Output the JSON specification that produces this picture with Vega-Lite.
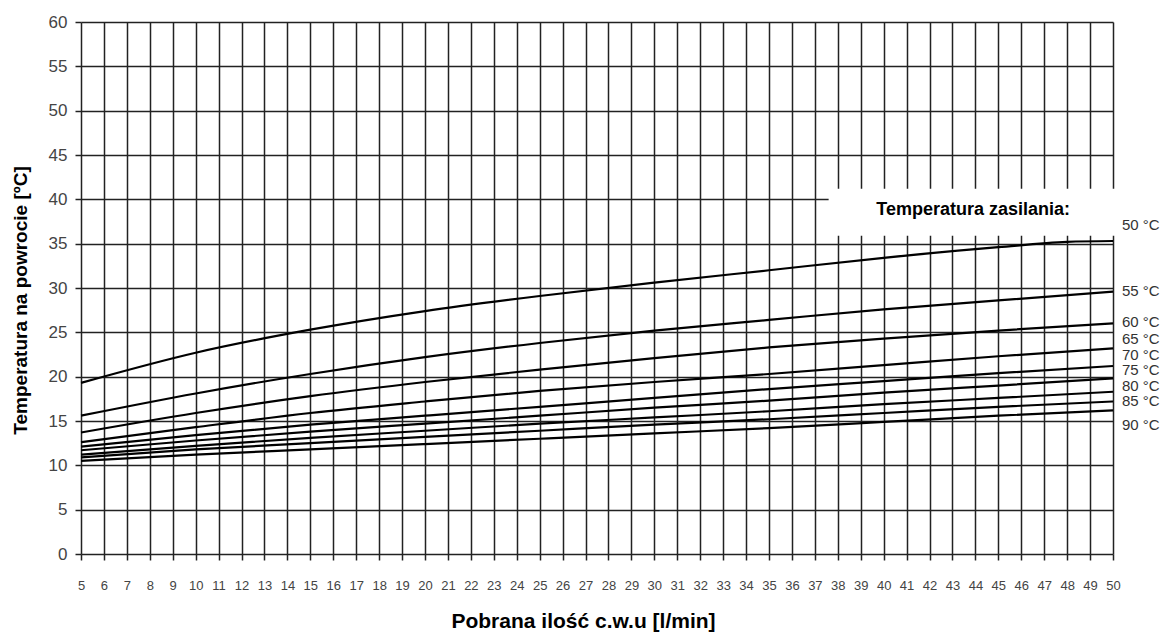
{
  "$schema": "https://vega.github.io/schema/vega-lite/v6.json",
  "width": 1032,
  "height": 532,
  "autosize": {"type": "none"},
  "padding": {"left": 81, "top": 22, "right": 54, "bottom": 81},
  "background": "white",
  "config": {"view": {"stroke": null}, "font": "Liberation Sans"},
  "datasets": {
    "curves": [
      {"s": "50", "x": 5, "y": 19.3}, {"s": "50", "x": 10, "y": 22.7}, {"s": "50", "x": 15, "y": 25.3}, {"s": "50", "x": 20, "y": 27.4}, {"s": "50", "x": 25, "y": 29.1}, {"s": "50", "x": 30, "y": 30.6}, {"s": "50", "x": 35, "y": 32.0}, {"s": "50", "x": 40, "y": 33.4}, {"s": "50", "x": 45, "y": 34.6}, {"s": "50", "x": 48, "y": 35.2}, {"s": "50", "x": 50, "y": 35.3},
      {"s": "55", "x": 5, "y": 15.6}, {"s": "55", "x": 10, "y": 18.1}, {"s": "55", "x": 15, "y": 20.3}, {"s": "55", "x": 20, "y": 22.2}, {"s": "55", "x": 25, "y": 23.8}, {"s": "55", "x": 30, "y": 25.2}, {"s": "55", "x": 35, "y": 26.4}, {"s": "55", "x": 40, "y": 27.6}, {"s": "55", "x": 45, "y": 28.6}, {"s": "55", "x": 50, "y": 29.6},
      {"s": "60", "x": 5, "y": 13.7}, {"s": "60", "x": 10, "y": 15.9}, {"s": "60", "x": 15, "y": 17.8}, {"s": "60", "x": 20, "y": 19.4}, {"s": "60", "x": 25, "y": 20.8}, {"s": "60", "x": 30, "y": 22.1}, {"s": "60", "x": 35, "y": 23.3}, {"s": "60", "x": 40, "y": 24.3}, {"s": "60", "x": 45, "y": 25.2}, {"s": "60", "x": 50, "y": 26.0},
      {"s": "65", "x": 5, "y": 12.6}, {"s": "65", "x": 10, "y": 14.3}, {"s": "65", "x": 15, "y": 15.9}, {"s": "65", "x": 20, "y": 17.2}, {"s": "65", "x": 25, "y": 18.4}, {"s": "65", "x": 30, "y": 19.4}, {"s": "65", "x": 35, "y": 20.3}, {"s": "65", "x": 40, "y": 21.3}, {"s": "65", "x": 45, "y": 22.3}, {"s": "65", "x": 50, "y": 23.2},
      {"s": "70", "x": 5, "y": 12.1}, {"s": "70", "x": 10, "y": 13.4}, {"s": "70", "x": 15, "y": 14.6}, {"s": "70", "x": 20, "y": 15.6}, {"s": "70", "x": 25, "y": 16.6}, {"s": "70", "x": 30, "y": 17.6}, {"s": "70", "x": 35, "y": 18.6}, {"s": "70", "x": 40, "y": 19.5}, {"s": "70", "x": 45, "y": 20.4}, {"s": "70", "x": 50, "y": 21.2},
      {"s": "75", "x": 5, "y": 11.7}, {"s": "75", "x": 10, "y": 12.8}, {"s": "75", "x": 15, "y": 13.8}, {"s": "75", "x": 20, "y": 14.7}, {"s": "75", "x": 25, "y": 15.6}, {"s": "75", "x": 30, "y": 16.5}, {"s": "75", "x": 35, "y": 17.3}, {"s": "75", "x": 40, "y": 18.2}, {"s": "75", "x": 45, "y": 19.0}, {"s": "75", "x": 50, "y": 19.8},
      {"s": "80", "x": 5, "y": 11.2}, {"s": "80", "x": 10, "y": 12.2}, {"s": "80", "x": 15, "y": 13.1}, {"s": "80", "x": 20, "y": 13.9}, {"s": "80", "x": 25, "y": 14.7}, {"s": "80", "x": 30, "y": 15.4}, {"s": "80", "x": 35, "y": 16.1}, {"s": "80", "x": 40, "y": 16.9}, {"s": "80", "x": 45, "y": 17.6}, {"s": "80", "x": 50, "y": 18.3},
      {"s": "85", "x": 5, "y": 10.9}, {"s": "85", "x": 10, "y": 11.8}, {"s": "85", "x": 15, "y": 12.5}, {"s": "85", "x": 20, "y": 13.2}, {"s": "85", "x": 25, "y": 13.9}, {"s": "85", "x": 30, "y": 14.6}, {"s": "85", "x": 35, "y": 15.2}, {"s": "85", "x": 40, "y": 15.9}, {"s": "85", "x": 45, "y": 16.6}, {"s": "85", "x": 50, "y": 17.2},
      {"s": "90", "x": 5, "y": 10.5}, {"s": "90", "x": 10, "y": 11.2}, {"s": "90", "x": 15, "y": 11.8}, {"s": "90", "x": 20, "y": 12.4}, {"s": "90", "x": 25, "y": 13.0}, {"s": "90", "x": 30, "y": 13.6}, {"s": "90", "x": 35, "y": 14.2}, {"s": "90", "x": 40, "y": 14.9}, {"s": "90", "x": 45, "y": 15.6}, {"s": "90", "x": 50, "y": 16.2}
    ],
    "box": [
      {"x1": 37.6, "x2": 50.2, "y1": 35.9, "y2": 41.2, "tx": 43.9, "ty": 38.75, "title": "Temperatura zasilania:"}
    ],
    "labels": [
      {"label": "50 °C", "x": 50, "y": 37.06},
      {"label": "55 °C", "x": 50, "y": 29.7},
      {"label": "60 °C", "x": 50, "y": 26.2},
      {"label": "65 °C", "x": 50, "y": 24.2},
      {"label": "70 °C", "x": 50, "y": 22.5},
      {"label": "75 °C", "x": 50, "y": 20.7},
      {"label": "80 °C", "x": 50, "y": 18.9},
      {"label": "85 °C", "x": 50, "y": 17.2},
      {"label": "90 °C", "x": 50, "y": 14.5}
    ]
  },
  "layer": [
    {
      "data": {"name": "curves"},
      "mark": {"type": "line", "color": "black", "strokeWidth": 2.2, "interpolate": "monotone"},
      "encoding": {
        "x": {
          "field": "x", "type": "quantitative",
          "scale": {"domain": [5, 50], "nice": false, "zero": false},
          "axis": {
            "values": [5,6,7,8,9,10,11,12,13,14,15,16,17,18,19,20,21,22,23,24,25,26,27,28,29,30,31,32,33,34,35,36,37,38,39,40,41,42,43,44,45,46,47,48,49,50],
            "tickCount": 46,
            "grid": true, "gridColor": "#222", "gridWidth": 1.5, "gridOpacity": 1,
            "domain": false,
            "tickColor": "#222", "tickWidth": 1.5, "tickSize": 6,
            "labelFont": "Liberation Sans", "labelFontSize": 13, "labelColor": "#444",
            "labelPadding": 19, "labelOverlap": false, "labelFlush": false,
            "title": "Pobrana ilość c.w.u [l/min]",
            "titleFont": "Liberation Sans", "titleFontSize": 21, "titleFontWeight": "bold", "titleColor": "black",
            "titleX": 502, "titleY": 67, "titleBaseline": "middle", "titleAlign": "center"
          }
        },
        "y": {
          "field": "y", "type": "quantitative",
          "scale": {"domain": [0, 60], "nice": false},
          "axis": {
            "values": [0,5,10,15,20,25,30,35,40,45,50,55,60],
            "tickCount": 13,
            "grid": true, "gridColor": "#222", "gridWidth": 1.5, "gridOpacity": 1,
            "domain": false,
            "tickColor": "#222", "tickWidth": 1.5, "tickSize": 6,
            "labelFont": "Liberation Sans", "labelFontSize": 17, "labelColor": "#444",
            "labelPadding": 8, "labelOverlap": false, "labelFlush": false,
            "title": "Temperatura na powrocie [ºC]",
            "titleFont": "Liberation Sans", "titleFontSize": 19, "titleFontWeight": "bold", "titleColor": "black",
            "titleX": -61, "titleY": 278, "titleAngle": -90, "titleBaseline": "middle", "titleAlign": "center"
          }
        },
        "detail": {"field": "s", "type": "nominal"}
      }
    },
    {
      "data": {"name": "box"},
      "mark": {"type": "rect", "color": "white", "opacity": 1},
      "encoding": {
        "x": {"field": "x1", "type": "quantitative"},
        "x2": {"field": "x2"},
        "y": {"field": "y1", "type": "quantitative"},
        "y2": {"field": "y2"}
      }
    },
    {
      "data": {"name": "box"},
      "mark": {"type": "text", "font": "Liberation Sans", "fontWeight": "bold", "fontSize": 18, "align": "center", "baseline": "middle", "color": "black"},
      "encoding": {
        "x": {"field": "tx", "type": "quantitative"},
        "y": {"field": "ty", "type": "quantitative"},
        "text": {"field": "title"}
      }
    },
    {
      "data": {"name": "labels"},
      "mark": {"type": "text", "font": "Liberation Sans", "align": "left", "baseline": "middle", "dx": 9, "fontSize": 15, "color": "#333"},
      "encoding": {
        "x": {"field": "x", "type": "quantitative"},
        "y": {"field": "y", "type": "quantitative"},
        "text": {"field": "label"}
      }
    }
  ]
}
